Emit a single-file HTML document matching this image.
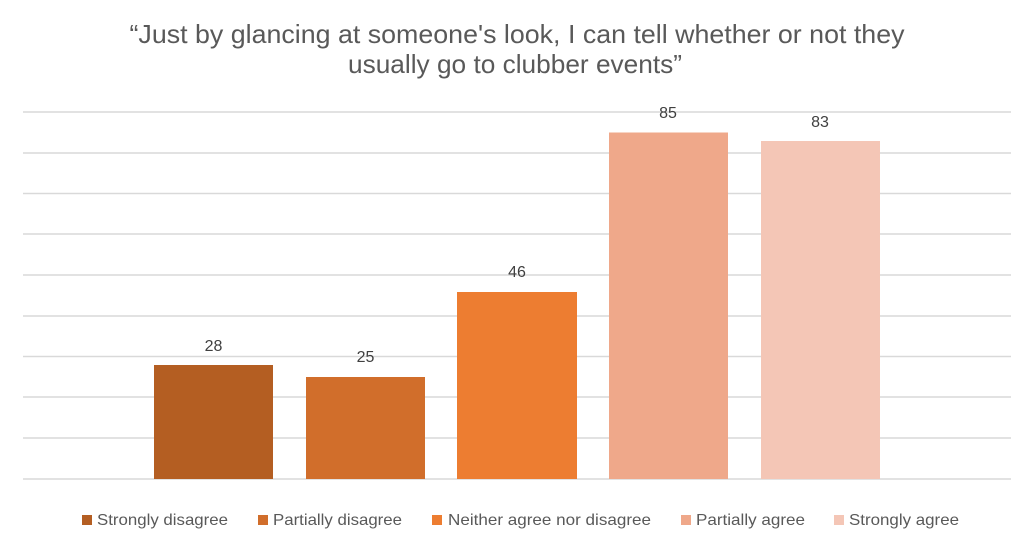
<!DOCTYPE html>
<html>
<head>
<meta charset="utf-8">
<style>
  html,body{margin:0;padding:0;background:#fff;}
  svg{display:block;}
  text{font-family:"Liberation Sans", Arial, sans-serif;}
</style>
</head>
<body>
<svg width="1034" height="549" viewBox="0 0 1034 549" xmlns="http://www.w3.org/2000/svg">
  <rect x="0" y="0" width="1034" height="549" fill="#ffffff"/>
  <!-- Title -->
  <text x="517" y="43" font-size="26" fill="#595959" text-anchor="middle" textLength="775" lengthAdjust="spacingAndGlyphs">“Just by glancing at someone's look, I can tell whether or not they</text>
  <text x="515" y="73" font-size="26" fill="#595959" text-anchor="middle" textLength="334" lengthAdjust="spacingAndGlyphs">usually go to clubber events”</text>

  <!-- Gridlines -->
  <g stroke="#D9D9D9" stroke-width="1.5">
    <line x1="23" y1="112" x2="1011" y2="112"/>
    <line x1="23" y1="153" x2="1011" y2="153"/>
    <line x1="23" y1="193.5" x2="1011" y2="193.5"/>
    <line x1="23" y1="234" x2="1011" y2="234"/>
    <line x1="23" y1="275" x2="1011" y2="275"/>
    <line x1="23" y1="316" x2="1011" y2="316"/>
    <line x1="23" y1="356.5" x2="1011" y2="356.5"/>
    <line x1="23" y1="397" x2="1011" y2="397"/>
    <line x1="23" y1="438" x2="1011" y2="438"/>
    <line x1="23" y1="479" x2="1011" y2="479"/>
  </g>

  <!-- Bars -->
  <rect x="154" y="365" width="119" height="114" fill="#B45E22"/>
  <rect x="306" y="377" width="119" height="102" fill="#D16E2B"/>
  <rect x="457" y="292" width="120" height="187" fill="#ED7D31"/>
  <rect x="609" y="132.5" width="119" height="346.5" fill="#EFA88A"/>
  <rect x="761" y="141" width="119" height="338" fill="#F4C6B6"/>

  <!-- Data labels -->
  <g font-size="16" fill="#404040" text-anchor="middle">
    <text x="213.5" y="351">28</text>
    <text x="365.5" y="362">25</text>
    <text x="517" y="277">46</text>
    <text x="668" y="118">85</text>
    <text x="820" y="127">83</text>
  </g>

  <!-- Legend -->
  <g font-size="16" fill="#595959">
    <rect x="82" y="515" width="10" height="10" fill="#B45E22"/>
    <text x="97" y="525" textLength="131" lengthAdjust="spacingAndGlyphs">Strongly disagree</text>
    <rect x="258" y="515" width="10" height="10" fill="#D16E2B"/>
    <text x="273" y="525" textLength="129" lengthAdjust="spacingAndGlyphs">Partially disagree</text>
    <rect x="432" y="515" width="10" height="10" fill="#ED7D31"/>
    <text x="448" y="525" textLength="203" lengthAdjust="spacingAndGlyphs">Neither agree nor disagree</text>
    <rect x="681" y="515" width="10" height="10" fill="#EFA88A"/>
    <text x="696" y="525" textLength="109" lengthAdjust="spacingAndGlyphs">Partially agree</text>
    <rect x="834" y="515" width="10" height="10" fill="#F4C6B6"/>
    <text x="849" y="525" textLength="110" lengthAdjust="spacingAndGlyphs">Strongly agree</text>
  </g>
</svg>
</body>
</html>
